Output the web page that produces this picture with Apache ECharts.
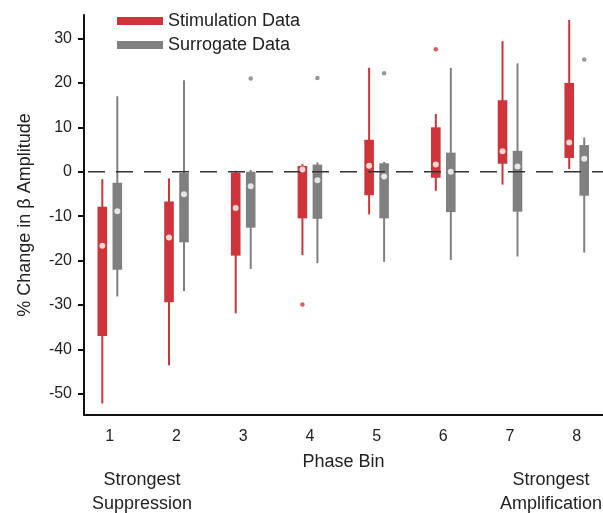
<!DOCTYPE html>
<html>
<head>
<meta charset="utf-8">
<script src="https://cdn.jsdelivr.net/npm/echarts@6/dist/echarts.min.js"></script>
<style>html,body{margin:0;padding:0;background:#fff}#c{width:603px;height:513px}</style>
</head>
<body>
<div id="c"></div>
<script>
// ---- data ----
var bins = [1, 2, 3, 4, 5, 6, 7, 8];
var yTicks = [-50, -40, -30, -20, -10, 0, 10, 20, 30];
var zeroLevel = 0;

var stimLow  = [-52.2, -43.6, -31.9, -18.8, -9.6, -4.3, -2.9, 0.6];
var stimQ1   = [-37.0, -29.4, -18.9, -10.5, -5.3, -1.35, 1.8, 3.1];
var stimMed  = [-16.7, -14.8, -8.2, 0.5, 1.35, 1.6, 4.6, 6.6];
var stimQ3   = [-7.9, -6.7, -0.2, 1.3, 7.2, 10.0, 16.1, 20.0];
var stimHigh = [-1.7, -1.5, 0.2, 1.7, 23.4, 13.0, 29.4, 34.2];
var stimOutliers = [[4, -29.9], [6, 27.6]];

var surrLow  = [-28.1, -26.9, -21.9, -20.6, -20.3, -19.9, -19.1, -18.2];
var surrQ1   = [-22.1, -15.9, -12.6, -10.6, -10.5, -9.1, -9.0, -5.4];
var surrMed  = [-8.9, -5.1, -3.3, -1.9, -1.1, 0.0, 1.2, 2.9];
var surrQ3   = [-2.5, -0.3, 0.0, 1.6, 1.9, 4.3, 4.7, 6.0];
var surrHigh = [17.0, 20.6, 0.4, 2.1, 2.2, 23.4, 24.4, 7.7];
var surrOutliers = [[3, 21.0], [4, 21.1], [5, 22.2], [8, 25.3]];

var X_MIN = 0.613, X_MAX = 8.394;
var RED = '#CF343A', GRAY = '#808080';
var FONT = 'Liberation Sans, Arial, sans-serif';

function boxData(low, q1, med, q3, high) {
  return bins.map(function (b, i) { return [b, low[i], q1[i], med[i], q3[i], high[i]]; });
}
function makeRender(off) {
  return function (params, api) {
    var x = api.value(0);
    var pLow = api.coord([x, api.value(1)]);
    var pQ1 = api.coord([x, api.value(2)]);
    var pQ3 = api.coord([x, api.value(4)]);
    var pHigh = api.coord([x, api.value(5)]);
    var color = api.visual('color');
    var cx = pLow[0] + off;
    return {
      type: 'group',
      children: [
        { type: 'rect', shape: { x: cx - 1, y: pHigh[1], width: 2, height: pLow[1] - pHigh[1] }, style: { fill: color } },
        { type: 'rect', shape: { x: cx - 4.8, y: pQ3[1], width: 9.6, height: pQ1[1] - pQ3[1] }, style: { fill: color } }
      ]
    };
  };
}

var chart = echarts.init(document.getElementById('c'), null, { renderer: 'canvas' });
chart.setOption({
  animation: false,
  textStyle: { fontFamily: FONT },
  grid: { left: 84, right: 0, top: 15, bottom: 98 },
  legend: {
    orient: 'vertical', left: 117, top: 12, padding: 0,
    itemWidth: 46, itemHeight: 8, itemGap: 6,
    icon: 'rect',
    data: ['Stimulation Data', 'Surrogate Data'],
    textStyle: { fontSize: 18, color: '#222', fontFamily: FONT }
  },
  xAxis: {
    type: 'value', min: X_MIN, max: X_MAX,
    name: 'Phase Bin', nameLocation: 'middle', nameGap: 38,
    nameTextStyle: { fontSize: 18, color: '#222', fontFamily: FONT },
    axisLine: { onZero: false, lineStyle: { color: '#111', width: 2 } },
    axisTick: { show: false },
    splitLine: { show: false },
    axisLabel: { customValues: bins, fontSize: 16, color: '#222', margin: 14, fontFamily: FONT }
  },
  yAxis: {
    type: 'value', min: -54.8, max: 35.3,
    name: '% Change in \u03b2 Amplitude', nameLocation: 'middle', nameGap: 50,
    nameTextStyle: { fontSize: 18, color: '#222', fontFamily: FONT },
    axisLine: { show: true, onZero: false, lineStyle: { color: '#111', width: 2 } },
    axisTick: { show: true, customValues: yTicks, length: 6, lineStyle: { color: '#111', width: 2 } },
    splitLine: { show: false },
    axisLabel: { customValues: yTicks, fontSize: 16, color: '#222', margin: 12, fontFamily: FONT }
  },
  graphic: [
    { type: 'text', x: 142, y: 468, style: { text: 'Strongest\nSuppression', align: 'center', verticalAlign: 'top', lineHeight: 24, fill: '#222', font: '18px ' + FONT } },
    { type: 'text', x: 551, y: 468, style: { text: 'Strongest\nAmplification', align: 'center', verticalAlign: 'top', lineHeight: 24, fill: '#222', font: '18px ' + FONT } }
  ],
  series: [
    {
      name: 'Stimulation Data', type: 'custom', renderItem: makeRender(-7.5),
      itemStyle: { color: RED },
      encode: { x: 0, y: [1, 2, 3, 4, 5] },
      data: boxData(stimLow, stimQ1, stimMed, stimQ3, stimHigh)
    },
    {
      name: 'Surrogate Data', type: 'custom', renderItem: makeRender(7.5),
      itemStyle: { color: GRAY },
      encode: { x: 0, y: [1, 2, 3, 4, 5] },
      data: boxData(surrLow, surrQ1, surrMed, surrQ3, surrHigh)
    },
    {
      name: 'zero', type: 'custom', z: 5, silent: true,
      encode: { x: 0, y: 1 },
      data: [[X_MIN, zeroLevel]],
      renderItem: function (params, api) {
        var y0 = api.value(1);
        var a = api.coord([X_MIN, y0]);
        var b = api.coord([X_MAX, y0]);
        return {
          type: 'line',
          shape: { x1: a[0] + 4, y1: a[1], x2: b[0], y2: b[1] },
          style: { stroke: '#333', lineWidth: 1.6, lineDash: [17, 11], fill: null }
        };
      }
    },
    { name: 'stimMed', type: 'scatter', z: 10, symbolSize: 6, symbolOffset: [-7.5, 0], itemStyle: { color: '#fff' },
      data: bins.map(function (b, i) { return [b, stimMed[i]]; }) },
    { name: 'surrMed', type: 'scatter', z: 10, symbolSize: 6, symbolOffset: [7.5, 0], itemStyle: { color: '#fff' },
      data: bins.map(function (b, i) { return [b, surrMed[i]]; }) },
    { name: 'stimOut', type: 'scatter', z: 10, symbolSize: 4.5, symbolOffset: [-7.5, 0], itemStyle: { color: RED },
      data: stimOutliers },
    { name: 'surrOut', type: 'scatter', z: 10, symbolSize: 4.5, symbolOffset: [7.5, 0], itemStyle: { color: GRAY },
      data: surrOutliers }
  ]
});
</script>
</body>
</html>
